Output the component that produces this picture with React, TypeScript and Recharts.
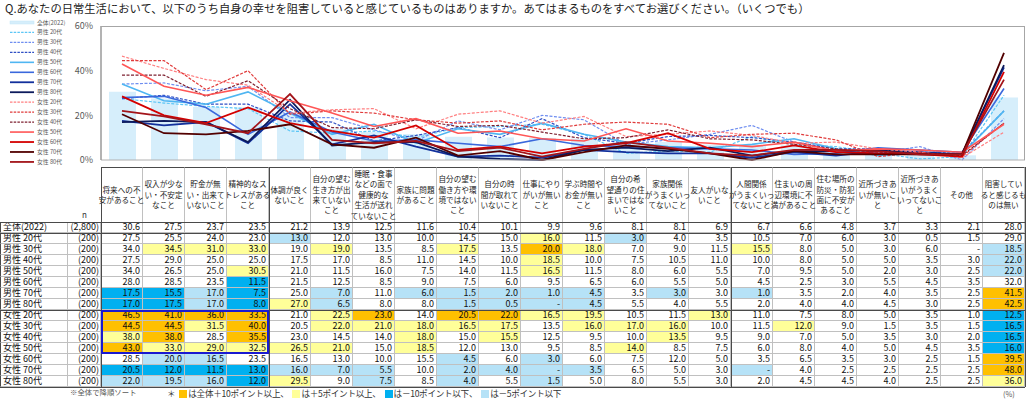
import React from "react";
import { ComposedChart, Bar, Line, XAxis, YAxis } from "recharts";

// question categories (header text, "\n" = line break as in the original table)
const categories = [
  "将来への不\n安があること",
  "収入が少な\nい・不安定\nなこと",
  "貯金が無\nい・出来て\nいないこと",
  "精神的なス\nトレスがある\nこと",
  "体調が良く\nないこと",
  "自分の望む\n生き方が出\n来ていない\nこと",
  "睡眠・食事\nなどの面で\n健康的な\n生活が送れ\nていないこと",
  "家族に問題\nがあること",
  "自分の望む\n働き方や環\n境ではない\nこと",
  "自分の時\n間が取れて\nいないこと",
  "仕事にやり\nがいが無い\nこと",
  "学ぶ時間や\nお金が無い\nこと",
  "自分の希\n望通りの住\nまいではな\nいこと",
  "家族関係\nがうまくいっ\nてないこと",
  "友人がいな\nいこと",
  "人間関係\nがうまくいっ\nてないこと",
  "住まいの周\n辺環境に不\n満があること",
  "住む場所の\n防災・防犯\n面に不安が\nあること",
  "近所づきあ\nいが無いこ\nと",
  "近所づきあ\nいがうまく\nいってないこ\nと",
  "その他",
  "阻害してい\nると感じるも\nのは無い",
];

const segments = [
  "全体(2022)",
  "男性 20代", "男性 30代", "男性 40代", "男性 50代", "男性 60代", "男性 70代", "男性 80代",
  "女性 20代", "女性 30代", "女性 40代", "女性 50代", "女性 60代", "女性 70代", "女性 80代",
];
const sampleSizes = ["(2,800)", "(200)", "(200)", "(200)", "(200)", "(200)", "(200)", "(200)",
  "(200)", "(200)", "(200)", "(200)", "(200)", "(200)", "(200)"];

// values in %, 0 is shown as "-"
const total2022 = [30.6, 27.5, 23.7, 23.5, 21.2, 13.9, 12.5, 11.6, 10.4, 10.1, 9.9, 9.6, 8.1, 8.1, 6.9, 6.7, 6.6, 4.8, 3.7, 3.3, 2.1, 28.0];
const male20 = [27.5, 25.5, 24.0, 23.0, 13.0, 12.0, 13.0, 10.0, 14.5, 15.0, 16.0, 11.5, 3.0, 4.0, 3.5, 10.5, 7.0, 6.0, 3.0, 0.5, 1.5, 29.0];
const male30 = [34.0, 34.5, 31.0, 33.0, 19.0, 19.0, 13.5, 8.5, 17.5, 13.5, 20.0, 18.0, 7.0, 9.0, 11.5, 15.5, 8.0, 5.0, 3.0, 6.0, 0, 18.5];
const male40 = [27.5, 29.0, 25.0, 25.0, 17.5, 17.0, 8.5, 11.0, 14.5, 10.0, 18.5, 10.0, 7.5, 10.5, 11.0, 10.0, 8.0, 5.0, 5.0, 3.5, 3.0, 22.0];
const male50 = [34.0, 26.5, 25.0, 30.5, 21.0, 11.5, 16.0, 7.5, 14.0, 11.5, 16.5, 11.5, 8.0, 6.0, 5.5, 7.0, 9.5, 5.0, 2.0, 3.0, 2.5, 22.0];
const male60 = [28.0, 28.5, 23.5, 11.5, 21.5, 12.5, 8.5, 9.0, 7.5, 6.0, 9.5, 6.5, 6.0, 5.5, 5.0, 4.5, 2.5, 3.0, 5.5, 4.5, 3.5, 32.0];
const male70 = [17.5, 15.5, 17.0, 7.5, 25.0, 7.0, 11.0, 6.0, 1.5, 2.0, 1.0, 4.5, 3.5, 3.0, 3.0, 1.0, 3.5, 2.0, 4.0, 3.5, 2.5, 41.5];
const male80 = [17.0, 17.5, 17.0, 8.0, 27.0, 6.5, 8.0, 8.0, 1.5, 0.5, 0, 4.5, 5.5, 4.0, 5.5, 2.0, 4.0, 4.0, 4.5, 3.0, 2.5, 42.5];
const female20 = [46.5, 41.0, 36.0, 33.5, 21.0, 22.5, 23.0, 14.0, 20.5, 22.0, 16.5, 19.5, 10.5, 11.5, 13.0, 11.0, 7.5, 8.0, 5.0, 3.5, 1.0, 12.5];
const female30 = [44.5, 44.5, 31.5, 40.0, 20.5, 22.0, 21.0, 18.0, 16.5, 17.5, 13.5, 16.0, 17.0, 16.0, 10.0, 11.5, 12.0, 9.0, 1.5, 3.5, 1.5, 16.5];
const female40 = [38.0, 38.0, 28.5, 35.5, 23.0, 14.5, 14.0, 18.0, 15.0, 15.5, 12.5, 9.5, 10.0, 13.5, 9.5, 9.0, 7.0, 5.0, 3.5, 3.0, 2.0, 16.5];
const female50 = [43.0, 33.0, 29.0, 32.5, 26.5, 21.0, 15.0, 18.5, 12.0, 13.0, 9.5, 8.5, 14.0, 8.5, 7.5, 6.0, 8.0, 4.0, 5.0, 4.5, 3.5, 16.0];
const female60 = [28.5, 20.0, 16.5, 23.5, 16.5, 13.0, 10.0, 15.5, 4.5, 6.0, 3.0, 6.0, 7.5, 12.0, 5.0, 3.5, 6.5, 3.5, 3.0, 2.5, 1.5, 39.5];
const female70 = [20.5, 12.0, 11.5, 13.0, 16.0, 7.0, 5.5, 10.0, 2.0, 4.0, 0, 3.5, 6.5, 5.0, 3.0, 0, 4.0, 2.5, 2.5, 2.5, 2.5, 48.0];
const female80 = [22.0, 19.5, 16.0, 12.0, 29.5, 9.0, 7.5, 8.5, 4.0, 5.5, 1.5, 5.0, 8.0, 5.5, 3.0, 2.0, 4.5, 4.5, 4.0, 2.5, 2.5, 36.0];

const yTicks = [0, 20, 40, 60];

const tableRows = [total2022, male20, male30, male40, male50, male60, male70, male80,
  female20, female30, female40, female50, female60, female70, female80];

// line series styling
const lineSeries = [
  { key: "m20", values: male20, color: "#5cc6f6", dash: "3 1.5", width: 1.2 },
  { key: "m30", values: male30, color: "#6f8ef0", dash: "3 1.5", width: 1.2 },
  { key: "m40", values: male40, color: "#2f4fc4", dash: "3 1.5", width: 1.2 },
  { key: "m50", values: male50, color: "#4fb6f2", dash: undefined, width: 1.6 },
  { key: "m60", values: male60, color: "#3a68dc", dash: undefined, width: 1.6 },
  { key: "m70", values: male70, color: "#12309c", dash: undefined, width: 1.8 },
  { key: "m80", values: male80, color: "#0c1a5c", dash: undefined, width: 1.8 },
  { key: "f20", values: female20, color: "#ff7f80", dash: "3 1.5", width: 1.2 },
  { key: "f30", values: female30, color: "#e03a3a", dash: "3 1.5", width: 1.2 },
  { key: "f40", values: female40, color: "#7e2030", dash: "3 1.5", width: 1.2 },
  { key: "f50", values: female50, color: "#ff5656", dash: undefined, width: 1.6 },
  { key: "f60", values: female60, color: "#d40000", dash: undefined, width: 1.8 },
  { key: "f70", values: female70, color: "#520000", dash: undefined, width: 1.8 },
  { key: "f80", values: female80, color: "#a3141a", dash: undefined, width: 1.8 },
];

const chartData = categories.map((c, i) => {
  const row: Record<string, any> = { name: c, total: total2022[i] };
  lineSeries.forEach((s) => {
    row[s.key] = s.values[i];
  });
  return row;
});

const BAR_FILL = "#d6eefb";
const PLOT_LEFT = 101;
const COL_W = 42;
const HEADER_TOP = 167;
const HEADER_H = 55;
const ROW_H = 11;
const GRID = "#c0c0c0";
const DARK = "#4a4a4a";
const FONT = "'Noto Sans CJK JP', 'Noto Sans', sans-serif";

const cellColor = (v: number, base: number) => {
  const d = v - base;
  if (d >= 10) return "#ffc000";
  if (d >= 5) return "#ffff99";
  if (d <= -10) return "#00b0f0";
  if (d <= -5) return "#b6e2f7";
  return "#ffffff";
};

const fmt = (v: number) => (v === 0 ? "-" : v.toFixed(1));

const Legend = () => (
  <svg width={100} height={170} style={{ position: "absolute", left: 0, top: 0 }}>
    <rect x={10} y={21} width={24} height={3} fill={BAR_FILL} stroke="#c3e6f7" strokeWidth={0.5} />
    <text x={37} y={24.5} fontSize={5.8} fill="#595959" fontFamily={FONT}>{segments[0]}</text>
    {lineSeries.map((s, i) => {
      const y = 22.5 + (i + 1) * 9.96;
      return (
        <g key={s.key}>
          <line x1={10} x2={34} y1={y} y2={y} stroke={s.color} strokeWidth={s.width}
            strokeDasharray={s.dash ? "2.5 1.2" : undefined} />
          <text x={37} y={y + 2} fontSize={5.8} fill="#595959" fontFamily={FONT}>{segments[i + 1]}</text>
        </g>
      );
    })}
  </svg>
);

const DataTable = () => {
  const cells: React.ReactNode[] = [];
  categories.forEach((c, i) => {
    cells.push(
      <div key={`h${i}`} style={{
        position: "absolute", left: PLOT_LEFT + i * COL_W, top: HEADER_TOP, width: COL_W, height: HEADER_H,
        boxSizing: "border-box", borderTop: `1px solid ${DARK}`, borderRight: `1px solid ${GRID}`,
        display: "flex", alignItems: "center", justifyContent: "center", textAlign: "center",
        fontSize: 7.6, lineHeight: "10.4px", whiteSpace: "pre", color: "#222",
      }}>{c}</div>
    );
  });
  cells.push(
    <div key="nlabel" style={{ position: "absolute", left: 68, top: 209, width: 33, textAlign: "center", fontSize: 8, color: "#333" }}>n</div>
  );
  tableRows.forEach((vals, r) => {
    const top = HEADER_TOP + HEADER_H + r * ROW_H;
    const base = { position: "absolute" as const, top, height: ROW_H, boxSizing: "border-box" as const,
      borderBottom: `1px solid ${GRID}`, borderRight: `1px solid ${GRID}`, fontSize: 9, lineHeight: "10px",
      color: "#111", whiteSpace: "nowrap" as const };
    cells.push(<div key={`l${r}`} style={{ ...base, left: 0, width: 68, paddingLeft: 2, borderLeft: `1px solid ${DARK}` }}>{segments[r]}</div>);
    cells.push(<div key={`n${r}`} style={{ ...base, left: 68, width: 33, textAlign: "right", paddingRight: 1 }}>{sampleSizes[r]}</div>);
    vals.forEach((v, i) => {
      cells.push(
        <div key={`c${r}-${i}`} style={{ ...base, left: PLOT_LEFT + i * COL_W, width: COL_W, textAlign: "right", paddingRight: 2,
          background: r === 0 ? "#fff" : cellColor(v, total2022[i]) }}>{fmt(v)}</div>
      );
    });
  });
  const bottom = HEADER_TOP + HEADER_H + segments.length * ROW_H;
  const right = PLOT_LEFT + categories.length * COL_W;
  const hLine = (y: number, w: number, key: string) => (
    <div key={key} style={{ position: "absolute", left: 0, top: y - 0.5, width: right, height: w, background: DARK }} />
  );
  const vLine = (x: number, key: string, top = HEADER_TOP) => (
    <div key={key} style={{ position: "absolute", left: x - 0.5, top, width: 1.2, height: bottom - top, background: DARK }} />
  );
  return (
    <>
      {cells}
      {hLine(HEADER_TOP + HEADER_H, 1, "hh")}
      {hLine(HEADER_TOP + HEADER_H + ROW_H, 1.5, "ht")}
      {hLine(HEADER_TOP + HEADER_H + 8 * ROW_H, 1.2, "hm")}
      {hLine(bottom, 1, "hb")}
      {vLine(PLOT_LEFT, "v0")}
      {vLine(PLOT_LEFT + 4 * COL_W, "v4")}
      {vLine(PLOT_LEFT + 15 * COL_W, "v15")}
      {vLine(right, "vr")}
      <div style={{ position: "absolute", left: PLOT_LEFT, top: HEADER_TOP + HEADER_H + 8 * ROW_H,
        width: 4 * COL_W, height: 4 * ROW_H, boxSizing: "border-box", border: "2px solid #1a1ad0" }} />
    </>
  );
};

const Swatch = ({ color }: { color: string }) => (
  <span style={{ display: "inline-block", width: 8, height: 8, background: color, margin: "0 1px 0 4px", verticalAlign: "-1px" }} />
);

export default function App() {
  return (
    <div style={{ position: "absolute", left: 0, top: 0, width: 1028, height: 402, background: "#fff", fontFamily: FONT, overflow: "hidden" }}>
      <div style={{ position: "absolute", left: 5, top: 0, fontSize: 11.3, lineHeight: "16px", color: "#222", whiteSpace: "nowrap" }}>
        Q.あなたの日常生活において、以下のうち自身の幸せを阻害していると感じているものはありますか。あてはまるものをすべてお選びください。（いくつでも）
      </div>
      <div style={{ position: "absolute", left: 0, top: 0 }}>
        <ComposedChart width={1028} height={170} data={chartData} margin={{ top: 26, right: 3, bottom: 9, left: 66 }}>
          <XAxis dataKey="name" tick={false} tickLine={false} height={1} axisLine={{ stroke: "#b0b0b0" }} />
          <YAxis domain={[0, 60]} ticks={yTicks} width={35} tickFormatter={(v) => `${v}%`}
            tick={{ fontSize: 9, fill: "#595959", fontFamily: FONT }} axisLine={{ stroke: "#9a9a9a", strokeWidth: 1.5 }}
            tickLine={false} interval={0} />
          <Bar dataKey="total" fill={BAR_FILL} barSize={27} isAnimationActive={false} />
          {lineSeries.map((s) => (
            <Line key={s.key} dataKey={s.key} type="linear" stroke={s.color} strokeWidth={s.width}
              strokeDasharray={s.dash} dot={false} activeDot={false} isAnimationActive={false} />
          ))}
        </ComposedChart>
      </div>
      <div style={{ position: "absolute", left: PLOT_LEFT, top: 26, width: 924, height: 134, boxSizing: "border-box",
        borderTop: "1px solid #a6a6a6", borderRight: "1px solid #a6a6a6", pointerEvents: "none" }} />
      <Legend />
      <DataTable />
      <div style={{ position: "absolute", left: 70, top: 386, fontSize: 7.4, color: "#595959", whiteSpace: "nowrap" }}>※全体で降順ソート</div>
      <div style={{ position: "absolute", left: 167, top: 387, fontSize: 8.6, color: "#333", whiteSpace: "nowrap", letterSpacing: -0.3 }}>
        ＊<Swatch color="#ffc000" />は全体＋10ポイント以上、<Swatch color="#ffff99" />は＋5ポイント以上、<Swatch color="#00b0f0" />は－10ポイント以下、<Swatch color="#b6e2f7" />は－5ポイント以下
      </div>
      <div style={{ position: "absolute", left: 1003, top: 388, fontSize: 7.4, color: "#595959" }}>(%)</div>
    </div>
  );
}
